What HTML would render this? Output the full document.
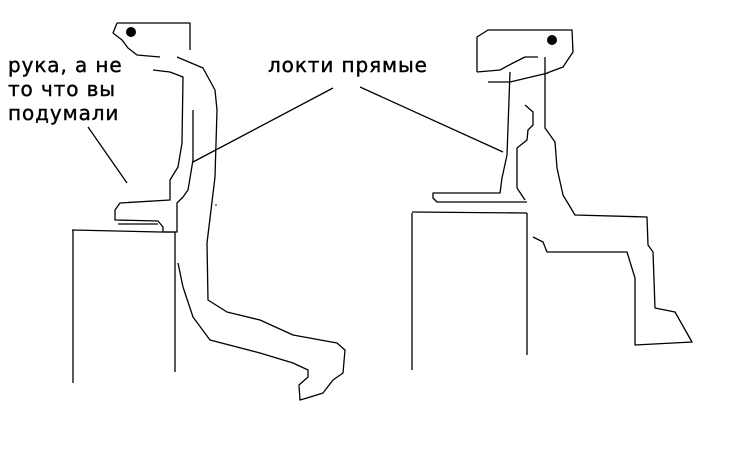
<!DOCTYPE html>
<html><head><meta charset="utf-8"><style>
html,body{margin:0;padding:0;background:#fff;}
svg{display:block;}
text{font-family:"DejaVu Sans","Liberation Sans",sans-serif;font-size:20px;letter-spacing:0.9px;fill:#000;stroke:#000;stroke-width:0.4;}
</style></head><body>
<svg width="730" height="456" viewBox="0 0 730 456" xmlns="http://www.w3.org/2000/svg">
<rect width="730" height="456" fill="#fff"/>
<g fill="none" stroke="#000" stroke-width="1.3" stroke-linejoin="round">
<polyline points="117,23 190,23 190,50"/>
<polyline points="117,23 113,33 122,40 128,48 137,55 160,57"/>
<polyline points="177,57 203,68 215,90 217,110 215,177 207,243 208,300 227,312 260,320 293,335 337,343 345,350 343,373 333,380 323,393 307,398 300,400 299,385 308,377 308,370 293,363 260,353 210,340 193,317 183,287 178,263"/>
<polyline points="153,70 170,72 183,77 182,143 178,167 170,180 170,200 120,203 115,210 115,220 158,221 163,227 163,232 177,232 177,203 183,197 188,190 193,160 193,110"/>
<polyline points="118,224 158,224"/>
<polyline points="193,162 333,88"/>
<polyline points="88,127 127,183"/>
<polyline points="72,230 160,232 175,232"/>
<polyline points="73,230 73,383"/>
<polyline points="175,232 175,372"/>
<polyline points="477,72 477,37 488,30 572,30 573,52 563,67 547,73"/>
<polyline points="477,72 500,70 513,63 525,57 538,57"/>
<polyline points="488,82 510,82 548,73"/>
<polyline points="545,57 545,128 555,142 557,168 563,195 575,215 647,217 648,245 653,252 655,308 675,312 692,342 635,345 635,278 627,252 547,252 543,242 533,237"/>
<polyline points="510,72 507,155 502,178 500,193 433,193 433,198 437,202 527,202"/>
<polyline points="525,105 533,112 533,125 528,130 527,140 517,148 517,188 525,200"/>
<polyline points="360,87 503,152"/>
<polyline points="412,212 527,213"/>
<polyline points="412,213 412,370"/>
<polyline points="527,213 527,355"/>
</g>
<circle cx="131" cy="32" r="5" fill="#000"/>
<circle cx="552" cy="40" r="5" fill="#000"/>
<circle cx="216" cy="205" r="0.8" fill="#000"/>
<text x="8" y="72">рука, а не</text>
<text x="8" y="96">то что вы</text>
<text x="8" y="120">подумали</text>
<text x="268" y="72">локти прямые</text>
</svg>
</body></html>
